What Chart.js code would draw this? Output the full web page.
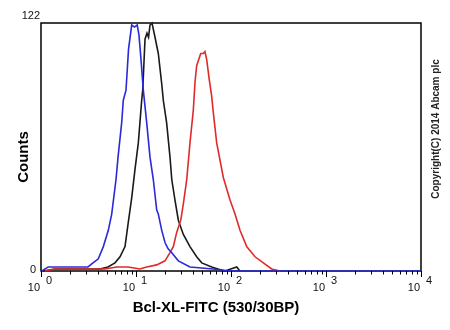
<!DOCTYPE html>
<html>
<head>
<meta charset="utf-8">
<script src="https://cdn.jsdelivr.net/npm/chart.js@4"></script>
<style>
  html, body { margin: 0; padding: 0; background: #fff; }
  #wrap { width: 450px; height: 330px; }
</style>
</head>
<body>
<div id="wrap"><canvas id="histChart" width="450" height="330"></canvas></div>
<script>
// histogram traces (x = fluorescence, y = counts)
const blueX = [1.02, 1.19, 1.58, 2.28, 3.12, 3.53, 4.01, 4.53, 5.11, 5.55, 6.16, 6.47, 7.07, 7.35, 7.85, 8.34, 9.01, 9.64, 10.3, 10.75, 11.29, 11.94, 12.96, 14.04, 15.21, 16.52, 17.17, 18.66, 20.2, 21.7, 23.8, 27.9, 37.0, 64.7, 97.6, 10000];
const blueY = [0, 2, 2, 2, 2, 4, 6, 12, 20, 28, 45, 56, 73, 84, 89, 109, 121, 120, 121, 116, 104, 89, 73, 56, 45, 30, 28, 20, 14, 11, 9, 5, 2, 1, 0, 0];

const blackX = [1.05, 1.4, 2.4, 3.3, 4.18, 5.07, 6.01, 6.79, 7.66, 8.3, 9.01, 9.76, 10.58, 11.0, 11.48, 11.77, 12.44, 13.05, 13.55, 14.04, 14.74, 15.85, 17.17, 18.66, 19.38, 21.0, 22.8, 23.8, 25.7, 27.9, 31.5, 37.0, 43.5, 49.2, 62.6, 73, 86.5, 114.8, 124];
const blackY = [0, 1, 1, 1, 1, 2, 4, 7, 12, 24, 36, 50, 63, 73, 84, 89, 114, 117, 115, 121, 122, 115, 107, 92, 84, 73, 56, 45, 35, 25, 18, 12, 7, 4, 2, 1, 0, 2, 0];

const redX = [1.1, 1.4, 2.28, 3.7, 4.72, 6.26, 8.24, 11.0, 12.96, 16.52, 20.2, 22.8, 24.7, 26.8, 29.6, 31.5, 34.2, 37.0, 40.1, 41.8, 43.5, 48.0, 51.1, 53.2, 55.5, 59.1, 62.6, 65.1, 70.7, 83.0, 97.5, 110.2, 124.4, 146.3, 179, 219, 268, 328];
const redY = [0, 1, 1, 1, 1, 2, 2, 1, 2, 3, 5, 9, 12, 19, 25, 33, 45, 63, 79, 93, 101, 107, 107, 108, 104, 94, 86, 78, 63, 46, 35, 28, 20, 12, 7, 4, 1, 0];

const decades = [0, 1, 2, 3, 4];
const yTickLabels = ['0', '122'];
const xTitle = 'Bcl-XL-FITC (530/30BP)';
const yTitle = 'Counts';
const sideNote = 'Copyright(C) 2014 Abcam plc';

const toPoints = (xs, ys) => xs.map((x, i) => ({ x: x, y: ys[i] }));

const FONT = '"Liberation Sans", Arial, sans-serif';

// frame, log ticks, labels and titles
const decorPlugin = {
    id: 'decor',
    beforeDatasetsDraw(chart) {
        const { ctx, chartArea: a } = chart;
        ctx.save();
        ctx.strokeStyle = '#000';
        ctx.lineWidth = 1.5;
        ctx.strokeRect(a.left, a.top, a.right - a.left, a.bottom - a.top);
        ctx.restore();
    },
    afterDraw(chart) {
        const { ctx, chartArea: a } = chart;
        const xs = chart.scales.x;
        const ys = chart.scales.y;
        ctx.save();
        ctx.strokeStyle = '#000';
        ctx.lineWidth = 1;

        // tick marks below the axis
        decades.forEach(d => {
            for (let k = 1; k <= 9; k++) {
                const v = k * Math.pow(10, d);
                if (v > 10000) break;
                const px = Math.round(xs.getPixelForValue(v)) + 0.5;
                const len = k === 1 ? 6 : 3.5;
                ctx.beginPath();
                ctx.moveTo(px, a.bottom);
                ctx.lineTo(px, a.bottom + len);
                ctx.stroke();
            }
        });

        // decade labels: "10" with raised exponent
        ctx.fillStyle = '#111';
        ctx.font = '11px ' + FONT;
        decades.forEach(d => {
            const px = xs.getPixelForValue(Math.pow(10, d));
            ctx.textAlign = 'right';
            ctx.textBaseline = 'alphabetic';
            ctx.fillText('10', px - 1, a.bottom + 20);
            ctx.textAlign = 'left';
            ctx.fillText(String(d), px + 5, a.bottom + 13);
        });

        // y labels
        ctx.textAlign = 'right';
        ctx.textBaseline = 'middle';
        ctx.fillText(yTickLabels[0], a.left - 5, ys.getPixelForValue(0) - 1);
        ctx.textBaseline = 'alphabetic';
        ctx.fillText(yTickLabels[1], a.left - 1, a.top - 4);

        // axis titles
        ctx.fillStyle = '#000';
        ctx.font = 'bold 15px ' + FONT;
        ctx.textAlign = 'center';
        ctx.fillText(xTitle, 216, a.bottom + 41);

        ctx.save();
        ctx.translate(28, 157);
        ctx.rotate(-Math.PI / 2);
        ctx.textBaseline = 'alphabetic';
        ctx.fillText(yTitle, 0, 0);
        ctx.restore();

        ctx.save();
        ctx.translate(439, 129);
        ctx.rotate(-Math.PI / 2);
        ctx.font = 'bold 10px ' + FONT;
        ctx.fillStyle = '#222';
        ctx.textAlign = 'center';
        ctx.fillText(sideNote, 0, 0);
        ctx.restore();

        ctx.restore();
    }
};

const lineStyle = (color) => ({
    borderColor: color,
    backgroundColor: color,
    borderWidth: 1.6,
    pointRadius: 0,
    tension: 0,
    fill: false,
    clip: 4
});

const ctx = document.getElementById('histChart').getContext('2d');
const chart = new Chart(ctx, {
    type: 'line',
    data: {
        datasets: [
            { label: 'blue', data: toPoints(blueX, blueY), ...lineStyle('#2a2ad8') },
            { label: 'red', data: toPoints(redX, redY), ...lineStyle('#e02a2a') },
            { label: 'black', data: toPoints(blackX, blackY), ...lineStyle('#1a1a1a') }
        ]
    },
    options: {
        responsive: false,
        animation: false,
        devicePixelRatio: 1,
        layout: { padding: { left: 41, top: 23, right: 29, bottom: 59 } },
        plugins: {
            legend: { display: false },
            tooltip: { enabled: false }
        },
        scales: {
            x: { type: 'logarithmic', min: 1, max: 10000, display: false },
            y: { type: 'linear', min: 0, max: 122, display: false }
        }
    },
    plugins: [decorPlugin]
});
</script>
</body>
</html>
